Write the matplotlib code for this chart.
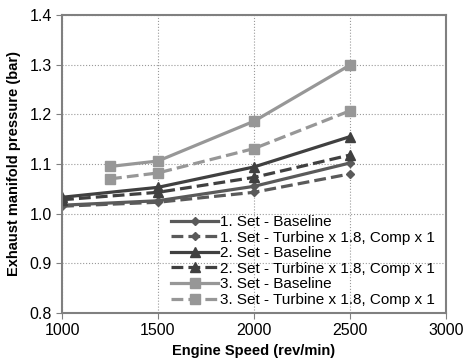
import matplotlib.pyplot as plt

plt.rcParams['font.family'] = ['Liberation Sans', 'DejaVu Sans']

speed = [1000, 1500, 2000, 2500]
speed3 = [1250, 1500, 2000, 2500]

set1_base = [1.017, 1.026, 1.055, 1.102]
set1_turb = [1.015, 1.023, 1.043, 1.080]
set2_base = [1.033, 1.053, 1.094, 1.155]
set2_turb = [1.028, 1.043, 1.073, 1.118]
set3_base = [1.095, 1.106, 1.186, 1.299]
set3_turb = [1.070, 1.082, 1.131, 1.207]

labels = ["1. Set - Baseline", "1. Set - Turbine x 1.8, Comp x 1",
          "2. Set - Baseline", "2. Set - Turbine x 1.8, Comp x 1",
          "3. Set - Baseline", "3. Set - Turbine x 1.8, Comp x 1"]

c1, c2, c3 = '#5a5a5a', '#404040', '#979797'

fig = plt.figure(figsize=(4.63, 3.64), dpi=100)
ax = fig.add_axes([0.134, 0.140, 0.829, 0.819])

lw = 2.3
ax.plot(speed, set1_base, '-', c=c1, lw=lw, marker='D', ms=4.5, label=labels[0])
ax.plot(speed, set1_turb, '--', c=c1, lw=lw, marker='D', ms=4.5, label=labels[1])
ax.plot(speed, set2_base, '-', c=c2, lw=lw, marker='^', ms=7, label=labels[2])
ax.plot(speed, set2_turb, '--', c=c2, lw=lw, marker='^', ms=7, label=labels[3])
ax.plot(speed3, set3_base, '-', c=c3, lw=lw, marker='s', ms=6.5, label=labels[4])
ax.plot(speed3, set3_turb, '--', c=c3, lw=lw, marker='s', ms=6.5, label=labels[5])

ax.set_xlim(1000, 3000)
ax.set_ylim(0.8, 1.4)
ax.set_xticks([1000, 1500, 2000, 2500, 3000])
ax.set_yticks([0.8, 0.9, 1.0, 1.1, 1.2, 1.3, 1.4])
ax.set_yticklabels(['0.8', '0.9', '1.0', '1.1', '1.2', '1.3', '1.4'])
ax.grid(True, ls=':', c='#999999', lw=0.8)
ax.set_axisbelow(True)
for s in ax.spines.values():
    s.set_color('#808080')
    s.set_linewidth(1.5)
ax.tick_params(labelsize=11.5, color='#808080', length=4, direction='out')
ax.set_xlabel("Engine Speed (rev/min)", fontsize=10.5, fontweight='bold', labelpad=4)
ax.set_ylabel("Exhaust manifold pressure (bar)", fontsize=10.5, fontweight='bold', labelpad=6)

ax.legend(loc='lower right', bbox_to_anchor=(0.995, -0.01), frameon=False,
          fontsize=11, handlelength=3.1, handletextpad=0.1, labelspacing=0.1,
          borderaxespad=0.2)

fig.savefig('out.png', dpi=100)
